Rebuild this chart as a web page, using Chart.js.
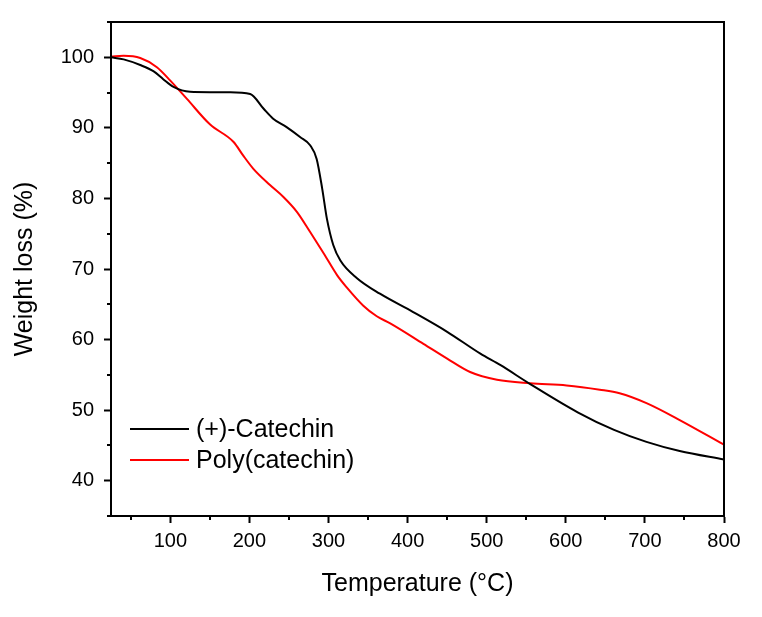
<!DOCTYPE html>
<html>
<head>
<meta charset="utf-8">
<script src="https://cdn.jsdelivr.net/npm/chart.js@4.4.1/dist/chart.umd.min.js"></script>
<style>
  html, body { margin: 0; padding: 0; background: #fff; }
  #wrap { width: 762px; height: 617px; }
</style>
</head>
<body>
<div id="wrap"><canvas id="tgaChart" width="762" height="617"></canvas></div>
<script>
// TGA curves
const catechinTemp = [25, 41, 62, 79, 91, 104, 125, 150, 176, 201, 218, 230, 247, 264, 277, 285, 292, 298, 306, 315, 336, 365, 407, 450, 492, 517, 555, 615, 661, 702, 744, 800];
const catechinWeight = [100, 99.7, 98.9, 98.0, 96.9, 95.8, 95.1, 95.05, 95.05, 94.8, 92.7, 91.3, 90.1, 88.7, 87.5, 85.6, 81.4, 77.1, 73.4, 71.2, 68.7, 66.5, 63.9, 61.1, 58.0, 56.4, 53.7, 49.7, 47.2, 45.5, 44.2, 43.0];

const polyTemp = [25, 41, 62, 83, 100, 121, 150, 180, 192, 205, 226, 243, 260, 277, 294, 311, 323, 344, 361, 378, 420, 450, 479, 513, 555, 601, 643, 668, 702, 744, 800];
const polyWeight = [100.1, 100.2, 99.9, 98.6, 96.7, 94.1, 90.5, 88.0, 86.1, 84.2, 81.9, 80.2, 78.1, 75.2, 72.2, 69.1, 67.4, 64.8, 63.3, 62.3, 59.4, 57.3, 55.4, 54.3, 53.8, 53.5, 52.9, 52.4, 51.0, 48.6, 45.1];

const xTicks = [100, 200, 300, 400, 500, 600, 700, 800];
const xMinorTicks = [50, 150, 250, 350, 450, 550, 650, 750];
const yTicks = [40, 50, 60, 70, 80, 90, 100];
const yMinorTicks = [35, 45, 55, 65, 75, 85, 95, 105];

const labels = ['(+)-Catechin', 'Poly(catechin)'];
const colors = ['#000000', '#ff0000'];

const FONT = 'Arial, "Liberation Sans", sans-serif';

function toPoints(xs, ys) {
    return xs.map((x, i) => ({ x: x, y: ys[i] }));
}

// box on top/right, minor ticks and legend inside the plot
const framePlugin = {
    id: 'frame',
    afterDraw(chart) {
        const ctx = chart.ctx;
        const a = chart.chartArea;
        const xs = chart.scales.x, ys = chart.scales.y;
        ctx.save();
        ctx.strokeStyle = '#000';
        ctx.lineWidth = 2;
        ctx.strokeRect(a.left, a.top, a.right - a.left, a.bottom - a.top);

        ctx.beginPath();
        xMinorTicks.forEach(v => {
            const px = Math.round(xs.getPixelForValue(v));
            ctx.moveTo(px, a.bottom);
            ctx.lineTo(px, a.bottom + 4);
        });
        yMinorTicks.forEach(v => {
            const py = Math.round(ys.getPixelForValue(v));
            ctx.moveTo(a.left, py);
            ctx.lineTo(a.left - 4, py);
        });
        ctx.stroke();

        // legend
        ctx.font = '25px ' + FONT;
        ctx.textBaseline = 'middle';
        ctx.textAlign = 'left';
        chart.data.datasets.forEach((ds, i) => {
            const y = 429 + i * 31;
            ctx.strokeStyle = ds.borderColor;
            ctx.lineWidth = 2;
            ctx.beginPath();
            ctx.moveTo(130, y);
            ctx.lineTo(189, y);
            ctx.stroke();
            ctx.fillStyle = '#000';
            ctx.fillText(ds.label, 196, y + 1);
        });
        ctx.restore();
    }
};

const ctx = document.getElementById('tgaChart').getContext('2d');
const chart = new Chart(ctx, {
    type: 'line',
    data: {
        datasets: [
            {
                label: labels[0],
                data: toPoints(catechinTemp, catechinWeight),
                borderColor: colors[0],
                borderWidth: 2,
                pointRadius: 0,
                cubicInterpolationMode: 'monotone'
            },
            {
                label: labels[1],
                data: toPoints(polyTemp, polyWeight),
                borderColor: colors[1],
                borderWidth: 2,
                pointRadius: 0,
                cubicInterpolationMode: 'monotone'
            }
        ]
    },
    options: {
        responsive: false,
        animation: false,
        layout: { padding: { left: 0, right: 38, top: 20, bottom: 0 } },
        plugins: {
            legend: { display: false },
            tooltip: { enabled: false }
        },
        scales: {
            x: {
                type: 'linear',
                min: 25,
                max: 800,
                afterBuildTicks: scale => { scale.ticks = xTicks.map(v => ({ value: v })); },
                afterFit: scale => { scale.height = 101; },
                grid: { drawOnChartArea: false, tickLength: 7, tickWidth: 2, tickColor: '#000' },
                border: { color: '#000', width: 2 },
                ticks: { color: '#000', font: { family: FONT, size: 20 }, padding: 6, maxRotation: 0 },
                title: {
                    display: true,
                    text: 'Temperature (°C)',
                    color: '#000',
                    font: { family: FONT, size: 25 },
                    padding: { bottom: 18 }
                }
            },
            y: {
                type: 'linear',
                min: 35,
                max: 105,
                afterBuildTicks: scale => { scale.ticks = yTicks.map(v => ({ value: v })); },
                afterFit: scale => { scale.width = 111; },
                grid: { drawOnChartArea: false, tickLength: 7, tickWidth: 2, tickColor: '#000' },
                border: { color: '#000', width: 2 },
                ticks: { color: '#000', font: { family: FONT, size: 20 }, padding: 10 },
                title: {
                    display: true,
                    text: 'Weight loss (%)',
                    color: '#000',
                    font: { family: FONT, size: 25 },
                    padding: { top: 10 }
                }
            }
        }
    },
    plugins: [framePlugin]
});
</script>
</body>
</html>
